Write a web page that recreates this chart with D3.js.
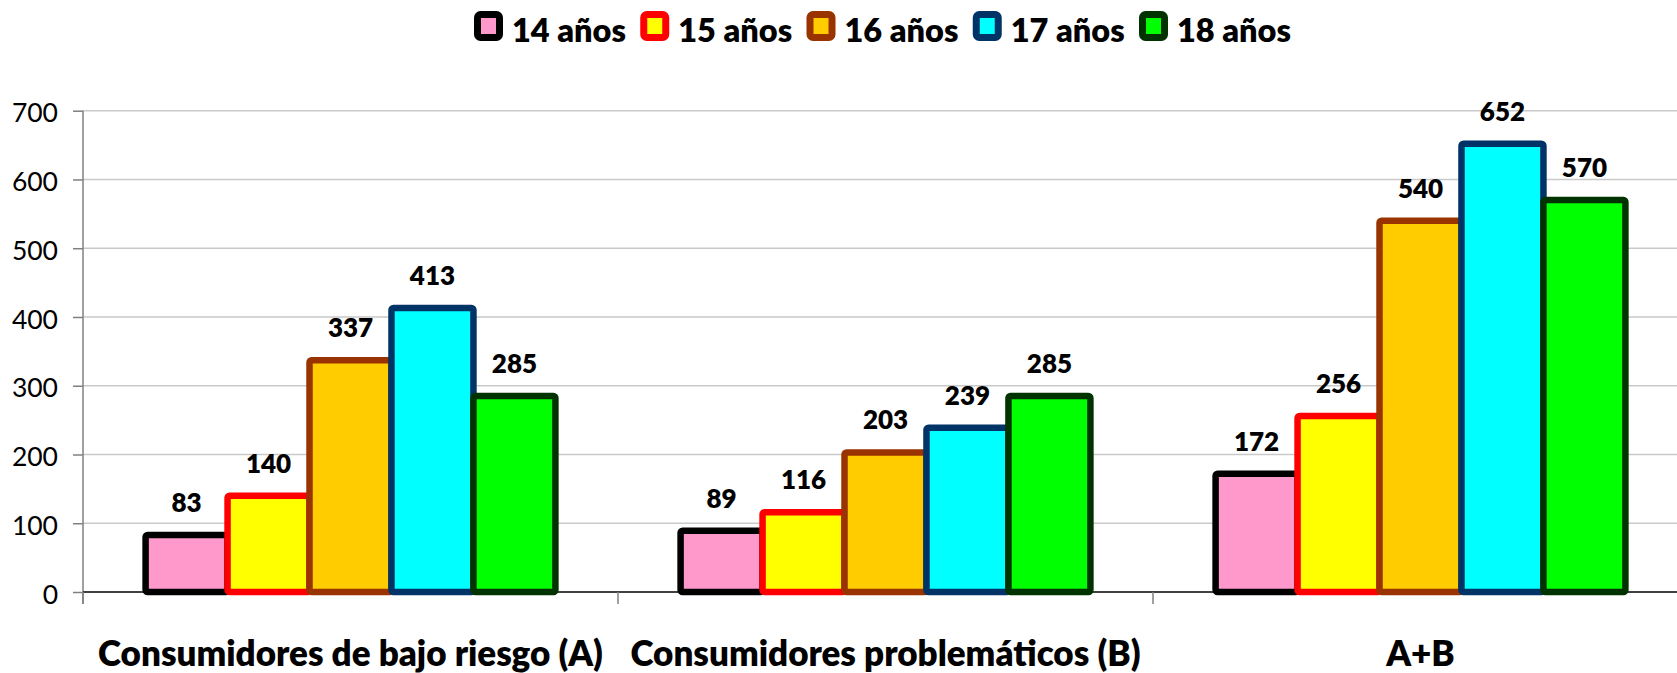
<!DOCTYPE html>
<html>
<head>
<meta charset="utf-8">
<script src="https://cdn.jsdelivr.net/npm/d3@7/dist/d3.min.js"></script>
<style>
  html, body { margin: 0; padding: 0; background: #ffffff; }
  svg { display: block; }
  .tick-label { font-family: Lato, "Liberation Sans", sans-serif; font-size: 26.5px; fill: #000; }
  .bold { font-family: Lato, "Liberation Sans", sans-serif; font-weight: 800; fill: #000; }
</style>
</head>
<body>
<svg id="chart" width="1677" height="673"></svg>
<script>
// Age groups and their counts per consumer category
const categories = ["Consumidores de bajo riesgo (A)", "Consumidores problemáticos (B)", "A+B"];
const seriesNames = ["14 años", "15 años", "16 años", "17 años", "18 años"];
const age14 = [83, 89, 172];
const age15 = [140, 116, 256];
const age16 = [337, 203, 540];
const age17 = [413, 239, 652];
const age18 = [285, 285, 570];
const yTicks = [0, 100, 200, 300, 400, 500, 600, 700];
const fills = ["#FF99CC", "#FFFF00", "#FFCC00", "#00FFFF", "#00FF00"];
const strokes = ["#000000", "#FF0000", "#993300", "#003366", "#003300"];

const seriesValues = [age14, age15, age16, age17, age18];

const svg = d3.select("#chart");
const W = 1677;

const plot = { left: 83, right: 1688, top: 110.7, bottom: 592 };

const y = d3.scaleLinear().domain([0, 700]).range([plot.bottom, plot.top]);
const x0 = d3.scaleBand().domain(categories).range([plot.left, plot.right])
  .paddingInner(0.234).paddingOuter(0.117);
const x1 = d3.scaleBand().domain(seriesNames).range([0, x0.bandwidth()]).padding(0);

// Horizontal gridlines
svg.append("g").selectAll("line").data(yTicks.filter(d => d > 0)).join("line")
  .attr("x1", plot.left).attr("x2", W)
  .attr("y1", d => y(d)).attr("y2", d => y(d))
  .attr("stroke", "#c9c9c9").attr("stroke-width", 1.5);

// Y axis
const yAxis = svg.append("g").attr("transform", `translate(${plot.left},0)`)
  .call(d3.axisLeft(y).tickValues(yTicks).tickSize(10).tickPadding(15));
yAxis.select(".domain").remove();
yAxis.selectAll(".tick line").attr("stroke", "#808080").attr("stroke-width", 1.5);
yAxis.selectAll(".tick text").attr("class", "tick-label").attr("font-size", null).attr("font-family", null)
  .attr("dy", "0.42em");
yAxis.append("line").attr("x1", 0).attr("x2", 0).attr("y1", plot.top).attr("y2", plot.bottom + 12)
  .attr("stroke", "#808080").attr("stroke-width", 1.5);

// X axis baseline and category separators
svg.append("line").attr("x1", plot.left).attr("x2", W)
  .attr("y1", plot.bottom).attr("y2", plot.bottom)
  .attr("stroke", "#404040").attr("stroke-width", 2);
const bounds = d3.range(categories.length + 1).map(i => plot.left + i * x0.step());
svg.append("g").selectAll("line").data(bounds).join("line")
  .attr("x1", d => d).attr("x2", d => d)
  .attr("y1", plot.bottom).attr("y2", plot.bottom + 12)
  .attr("stroke", "#808080").attr("stroke-width", 1.5);

// Category labels
const xAxis = svg.append("g").attr("transform", `translate(0,${plot.bottom})`)
  .call(d3.axisBottom(x0).tickSize(0).tickPadding(0));
xAxis.select(".domain").remove();
xAxis.selectAll(".tick text").attr("class", "bold").attr("font-size", null).attr("font-family", null)
  .style("font-size", "35px").attr("y", 74).attr("dy", null);

// Bars, drawn series by series so later strokes sit on top
const barW = x1.bandwidth();
seriesValues.forEach((vals, si) => {
  const g = svg.append("g");
  g.selectAll("rect").data(vals).join("rect")
    .attr("x", (d, ci) => x0(categories[ci]) + x1(seriesNames[si]))
    .attr("y", d => y(d))
    .attr("width", barW)
    .attr("height", d => plot.bottom - y(d))
    .attr("rx", 2)
    .attr("fill", fills[si])
    .attr("stroke", strokes[si])
    .attr("stroke-width", 6.5)
    .attr("stroke-linejoin", "round");
});

// Value labels above bars
seriesValues.forEach((vals, si) => {
  svg.append("g").selectAll("text").data(vals).join("text")
    .attr("class", "bold")
    .style("font-size", "26px")
    .attr("text-anchor", "middle")
    .attr("x", (d, ci) => x0(categories[ci]) + x1(seriesNames[si]) + barW / 2)
    .attr("y", d => y(d) - 23)
    .text(d => d);
});

// Legend
const legendStart = 474, legendStep = 166.25;
const legend = svg.append("g");
seriesNames.forEach((name, i) => {
  const lx = legendStart + i * legendStep;
  legend.append("rect")
    .attr("x", lx + 3.5).attr("y", 14.5).attr("width", 22).attr("height", 23)
    .attr("rx", 3)
    .attr("fill", fills[i]).attr("stroke", strokes[i]).attr("stroke-width", 7);
  legend.append("text").attr("class", "bold").style("font-size", "32.5px")
    .attr("x", lx + 38).attr("y", 42).text(name);
});
</script>
</body>
</html>
